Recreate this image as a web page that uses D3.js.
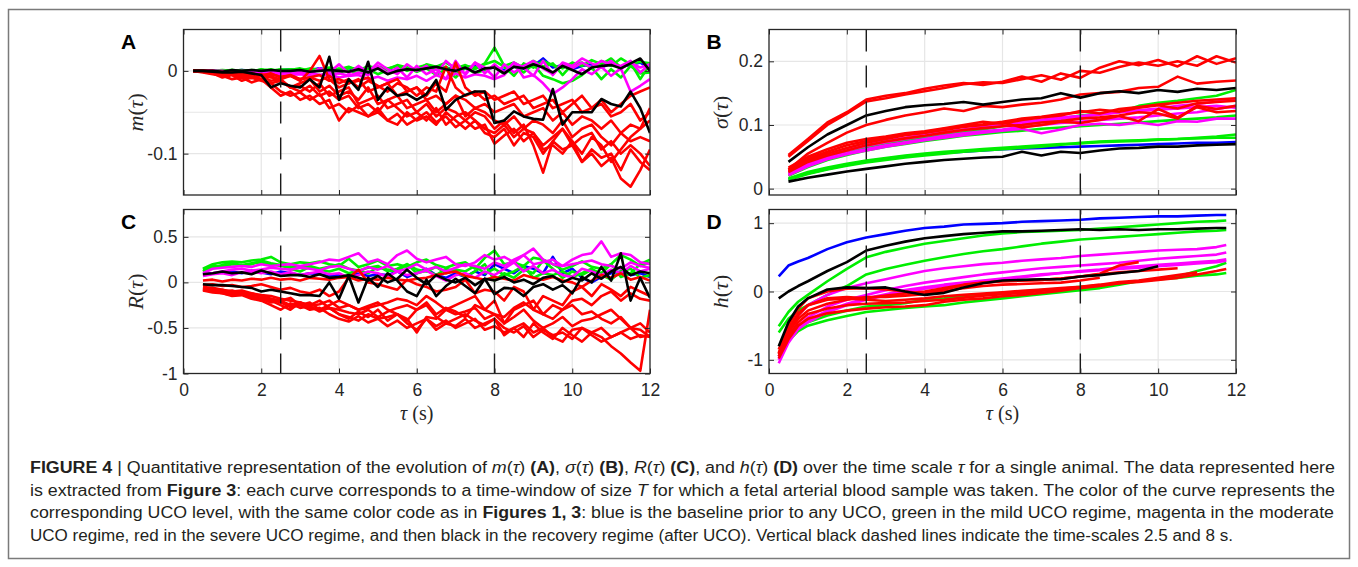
<!DOCTYPE html>
<html>
<head>
<meta charset="utf-8">
<script src="https://cdnjs.cloudflare.com/ajax/libs/d3/7.8.5/d3.min.js"></script>
<style>
  body { margin: 0; background: #fff; }
  svg { display: block; }
</style>
</head>
<body>
<div id="graph"></div>
<script>
// time scales (s)
var tau_a = [.25,.5,.75,1,1.25,1.5,1.75,2,2.25,2.5,2.75,3,3.25,3.5,3.75,4,4.25,4.5,4.75,5,5.25,5.5,5.75,6,
  6.25,6.5,6.75,7,7.25,7.5,7.75,8,8.25,8.5,8.75,9,9.25,9.5,9.75,10,10.25,10.5,10.75,11,11.25,11.5,11.75,12];
var tau_c = [.5,.75,1,1.25,1.5,1.75,2,2.25,2.5,2.75,3,3.25,3.5,3.75,4,4.25,4.5,4.75,5,5.25,5.5,5.75,6,
  6.25,6.5,6.75,7,7.25,7.5,7.75,8,8.25,8.5,8.75,9,9.25,9.5,9.75,10,10.25,10.5,10.75,11,11.25,11.5,11.75,12];
var tau_b = [.5,1,1.5,2,2.5,3,3.5,4,4.5,5,5.5,6,6.5,7,7.5,8,8.5,9,9.5,10,10.5,11,11.5,12];
var tau_d = [.25,.5,.75,1,1.5,2,2.5,3,3.5,4,4.5,5,5.5,6,6.5,7,7.5,8,8.5,9,9.5,10,10.5,11,11.5,11.75];

var x_ticks = [0, 2, 4, 6, 8, 10, 12];
var x_grid = [2, 4, 6, 8, 10];
var dash_at = [2.5, 8];

// (A) m(tau)
var m_blue = [[0,0,0,0,0,.001,0,.001,0,.001,.002,0,.001,.003,.001,.002,0,.003,.001,.004,.002,0,.003,.001,.005,.002,.004,.001,.003,.006,.002,.004,.001,.005,.003,.006,.015,.004,.007,.002,.006,.008,.004,.009,.005,.007,.01,.003]];
var m_green = [
  [0,0,0,.001,0,.001,-.001,.002,0,.001,.002,0,.003,.001,.004,.002,.005,0,.006,.003,.002,.007,.004,.001,.008,.005,.01,.003,.007,.002,.009,.028,.006,.01,.004,.012,.005,.009,-.005,.008,.01,.003,.012,.006,.015,.008,.011,.009],
  [0,0,-.001,0,.001,-.001,.001,0,.002,-.001,.001,.003,0,.002,-.002,.003,0,-.003,.002,-.004,.001,-.002,.004,-.001,.003,-.005,.002,-.008,.004,-.003,.001,.005,-.004,.006,-.002,.008,-.006,-.01,-.015,-.012,-.005,.004,-.01,.002,-.008,.006,-.003,-.002],
  [0,0,0,0,.001,0,0,.001,0,.002,0,.001,-.002,.002,.001,-.003,.004,.002,-.001,.005,.003,.006,0,.004,.007,.002,.005,-.003,.006,.004,.008,.012,.005,-.006,.009,.004,.012,.007,.003,.01,.006,.013,.008,.015,.004,.01,-.01,.008]];
var m_magenta = [
  [0,0,0,-.001,0,-.001,-.002,-.001,-.003,-.002,-.004,-.003,-.002,-.005,-.004,-.003,-.006,-.002,-.005,.006,-.003,.004,-.008,.006,-.004,.002,-.01,.012,-.005,.01,-.003,.008,-.002,.01,.004,-.006,.012,-.005,.009,.003,.01,.004,.012,.008,.006,.012,-.002,.008],
  [0,0,-.001,-.001,-.002,-.002,-.003,-.002,-.004,-.003,-.005,-.004,-.006,-.005,-.004,-.008,-.006,-.005,-.01,-.007,-.012,-.008,-.01,-.006,-.012,-.005,-.01,-.003,-.008,-.004,-.006,-.01,-.005,.01,-.008,-.005,-.015,-.028,-.02,-.01,.002,-.004,.005,-.006,.003,-.025,-.018,-.01],
  [0,0,0,0,-.001,0,-.001,-.002,-.001,-.002,-.003,-.001,-.004,.003,-.002,.008,-.003,.006,-.002,.01,.002,-.004,.008,0,.006,-.004,.012,.002,-.003,.01,.004,-.008,.008,-.002,.006,.012,.003,-.004,.01,.006,.015,.009,.004,.012,.002,.01,.004,.008]];
var m_red = [
  [0,-.001,-.003,-.008,-.005,-.012,-.008,-.012,-.015,-.025,-.03,-.026,-.035,-.028,-.045,-.04,-.05,-.042,-.055,-.05,-.06,-.052,-.065,-.058,-.05,-.062,-.055,-.068,-.06,-.07,-.065,-.088,-.078,-.07,-.085,-.075,-.095,-.09,-.1,-.085,-.11,-.095,-.105,-.1,-.12,-.095,-.11,-.12],
  [0,-.002,-.004,-.006,-.01,-.008,-.014,-.01,-.02,-.03,-.025,-.035,-.03,-.04,-.035,-.06,-.045,-.05,-.055,-.045,-.06,-.065,-.05,-.06,-.055,-.065,-.05,-.06,-.07,-.06,-.075,-.08,-.07,-.09,-.075,-.08,-.1,-.085,-.095,-.09,-.11,-.1,-.115,-.105,-.13,-.14,-.12,-.095],
  [0,-.001,-.002,-.004,-.003,-.006,-.009,-.006,-.012,-.01,-.02,-.018,-.025,-.015,-.03,-.025,-.02,-.04,-.035,-.03,-.045,-.04,-.035,-.05,-.04,-.055,-.045,-.05,-.06,-.05,-.055,-.07,-.06,-.075,-.065,-.09,-.123,-.085,-.07,-.09,-.08,-.075,-.095,-.085,-.1,-.09,-.1,-.115],
  [0,0,-.002,-.003,-.005,-.004,-.008,-.01,-.006,-.012,-.02,-.015,-.01,-.025,-.018,-.03,-.025,-.035,-.02,-.04,-.035,-.03,-.045,-.04,-.035,-.05,-.04,-.03,-.055,-.045,-.05,-.06,-.065,-.055,-.07,-.06,-.065,-.075,-.06,-.08,-.07,-.065,-.08,-.09,-.075,-.085,-.08,-.085],
  [0,0,-.001,-.002,-.004,-.003,-.006,-.004,-.008,-.01,-.006,-.012,0,.018,-.01,-.02,-.015,-.01,-.025,-.02,-.015,-.03,-.025,-.02,-.035,-.03,-.04,-.03,-.035,-.045,-.04,-.05,-.045,-.04,-.055,-.05,-.045,-.06,-.05,-.065,-.055,-.06,-.07,-.06,-.075,-.065,-.07,-.06],
  [0,0,-.001,-.001,-.003,-.002,-.004,-.006,-.003,-.008,-.005,-.01,-.008,-.012,-.006,-.015,-.01,-.02,-.012,-.018,-.025,-.015,-.02,-.03,-.02,-.025,.005,-.02,-.03,-.025,-.035,-.03,-.04,-.035,-.03,-.045,-.04,-.035,-.05,-.04,-.03,-.045,-.035,-.05,-.04,-.03,-.025,-.02],
  [0,-.001,-.003,-.005,-.004,-.008,-.006,-.01,-.015,-.012,-.02,-.025,-.018,-.03,-.025,-.035,-.03,-.045,-.04,-.05,-.035,-.045,-.055,-.05,-.06,-.045,-.065,-.055,-.05,-.06,-.07,-.075,-.065,-.08,-.07,-.075,-.09,-.08,-.07,-.085,-.1,-.08,-.09,-.11,-.095,-.08,-.07,-.045],
  [0,0,0,-.002,-.001,-.004,-.003,-.005,-.004,-.007,-.006,-.01,-.008,-.005,-.012,-.01,-.015,-.012,-.008,-.02,-.015,-.01,-.025,-.02,-.03,-.015,-.025,.01,-.02,-.03,-.025,-.035,-.03,-.025,-.04,-.035,-.03,-.045,-.04,-.035,-.05,-.045,-.04,-.055,-.05,-.04,-.06,-.05]];
var m_black = [
  [0,0,0,-.001,.001,0,.001,0,.001,0,0,.001,-.001,0,.001,0,-.001,.002,-.002,.003,-.004,0,.002,.001,.003,.005,.002,0,.004,-.002,.003,.004,-.003,.005,.003,.008,.004,-.002,.006,.001,-.004,.004,.006,.007,.003,.009,.015,0],
  [0,0,-.001,-.002,-.002,-.001,-.003,-.005,-.02,-.015,-.018,-.02,-.01,-.02,.017,-.035,-.01,-.023,.011,-.035,-.02,-.03,-.028,-.035,-.028,-.011,-.047,-.035,-.029,-.025,-.025,-.063,-.06,-.049,-.055,-.058,-.059,-.022,-.065,-.05,-.05,-.05,-.034,-.04,-.043,-.025,-.045,-.075]];

// (B) sigma(tau)
var s_blue = [[.015,.024,.031,.037,.043,.047,.051,.054,.056,.058,.06,.062,.063,.064,.065,.066,.067,.068,.069,.07,.071,.072,.072,.073]];
var s_green = [
  [.016,.026,.033,.039,.044,.048,.052,.055,.058,.06,.062,.064,.066,.068,.07,.071,.073,.074,.075,.077,.078,.08,.082,.085],
  [.014,.023,.03,.036,.041,.045,.049,.052,.055,.058,.06,.062,.064,.066,.069,.072,.074,.075,.076,.077,.078,.079,.08,.08],
  [.024,.038,.05,.058,.065,.071,.076,.08,.085,.089,.093,.098,.102,.105,.11,.115,.118,.12,.13,.135,.138,.142,.146,.155],
  [.02,.034,.045,.053,.06,.066,.07,.075,.079,.083,.086,.089,.091,.094,.096,.098,.1,.102,.104,.106,.108,.11,.112,.115]];
var s_magenta = [
  [.025,.04,.052,.06,.067,.073,.078,.083,.088,.092,.096,.1,.103,.107,.11,.113,.116,.12,.123,.126,.13,.133,.137,.14],
  [.023,.037,.048,.056,.062,.068,.073,.078,.083,.087,.09,.093,.097,.1,.103,.105,.108,.11,.112,.115,.118,.12,.125,.13],
  [.021,.035,.046,.054,.06,.066,.071,.076,.08,.084,.088,.091,.094,.087,.093,.1,.102,.1,.104,.1,.106,.105,.11,.11],
  [.027,.042,.054,.062,.069,.075,.08,.085,.089,.093,.097,.101,.105,.108,.112,.114,.117,.12,.122,.124,.126,.128,.13,.127]];
var s_red = [
  [.053,.078,.104,.12,.14,.146,.15,.157,.162,.166,.163,.168,.176,.168,.181,.174,.19,.2,.194,.202,.192,.208,.196,.205],
  [.05,.075,.1,.118,.137,.142,.148,.153,.158,.164,.167,.166,.172,.178,.171,.185,.182,.191,.198,.193,.2,.193,.208,.198],
  [.03,.055,.072,.088,.1,.108,.115,.12,.126,.122,.13,.128,.132,.135,.14,.148,.15,.152,.158,.16,.176,.165,.168,.17],
  [.033,.05,.062,.072,.078,.082,.087,.09,.095,.1,.105,.102,.108,.112,.115,.122,.118,.125,.128,.132,.135,.138,.14,.142],
  [.03,.047,.058,.068,.075,.08,.085,.088,.094,.098,.101,.105,.11,.113,.117,.12,.124,.121,.127,.131,.126,.134,.136,.138],
  [.028,.045,.055,.064,.072,.078,.084,.088,.092,.097,.1,.104,.096,.1,.105,.103,.108,.114,.106,.125,.112,.128,.12,.122],
  [.026,.042,.052,.06,.068,.074,.079,.083,.088,.092,.095,.098,.1,.104,.106,.11,.112,.115,.12,.118,.11,.13,.125,.13]];
var s_black = [
  [.042,.065,.085,.1,.115,.122,.128,.131,.133,.136,.132,.136,.14,.142,.15,.143,.15,.153,.15,.155,.152,.157,.155,.158],
  [.011,.017,.022,.027,.031,.035,.039,.042,.045,.047,.049,.05,.058,.052,.058,.056,.06,.063,.064,.066,.066,.068,.069,.07]];

// (C) R(tau)
var r_blue = [[.09,.1,.11,.12,.1,.13,.11,.09,.12,.1,.08,.1,.09,.07,.08,.06,.1,.07,.09,.08,.12,.06,.1,.15,.08,.05,.1,.06,.12,.08,.2,.15,.1,.18,.15,.1,.28,.1,.15,.05,0,.06,.1,.12,.08,.1,.06]];
var r_green = [
  [.15,.2,.22,.23,.22,.24,.25,.28,.22,.2,.22,.21,.23,.2,.18,.26,.17,.2,.24,.18,.2,.17,.22,.25,.19,.16,.2,.22,.15,.27,.35,.2,.22,.18,.27,.25,.2,.14,.18,.23,.17,.15,.2,.3,.25,.18,.22],
  [.12,.18,.17,.2,.19,.21,.22,.2,.18,.17,.16,.18,.15,.17,.2,.15,.13,.16,.18,.12,.15,.2,.14,.12,.17,.1,.14,.12,.18,.1,.15,.08,.12,.18,.05,.1,.08,.12,.06,.1,.15,.08,.03,.12,.15,.05,.08],
  [.14,.16,.19,.22,.18,.2,.24,.21,.19,.15,.12,.17,.14,.12,.15,.1,.13,.1,.17,.14,.12,.2,.1,.13,.08,.15,.12,.06,.12,.2,.02,.1,.05,.14,.1,.24,.15,.05,.12,.08,.14,.1,.2,.06,.1,.2,.25]];
var r_magenta = [
  [.1,.15,.16,.17,.18,.17,.2,.18,.19,.2,.18,.2,.22,.25,.24,.28,.32,.22,.25,.2,.3,.35,.26,.22,.25,.28,.2,.18,.22,.3,.25,.28,.22,.3,.37,.25,.2,.18,.25,.3,.32,.45,.28,.32,.3,.22,.2],
  [.08,.1,.12,.14,.15,.13,.14,.16,.15,.14,.16,.15,.13,.17,.18,.15,.12,.17,.14,.18,.12,.15,.2,.14,.17,.12,.16,.2,.18,.15,.22,.18,.25,.3,.2,.22,.25,.18,.2,.22,.24,.2,.18,.15,.22,.18,.16],
  [.07,.09,.1,.08,.11,.12,.1,.12,.09,.11,.08,.1,.12,.09,.1,.05,.08,.12,.1,.06,.12,.08,.1,.13,.07,.02,.08,.1,.05,.12,.08,.15,.22,.12,.18,.1,.14,.08,.06,.15,.12,.08,.14,.1,.18,.12,.15]];
var r_red = [
  [-.08,-.09,-.1,-.12,-.11,-.14,-.15,-.18,-.2,-.17,-.25,-.22,-.3,-.28,-.35,-.4,-.32,-.38,-.3,-.42,-.35,-.45,-.52,-.4,-.48,-.42,-.5,-.45,-.4,-.52,-.48,-.55,-.5,-.6,-.45,-.55,-.62,-.5,-.58,-.65,-.55,-.6,-.7,-.78,-.88,-.97,-.3],
  [-.06,-.08,-.1,-.09,-.12,-.15,-.2,-.18,-.22,-.27,-.25,-.3,-.28,-.35,-.4,-.43,-.37,-.44,-.4,-.38,-.35,-.42,-.3,-.25,-.38,-.45,-.4,-.35,-.42,-.47,-.4,-.58,-.5,-.45,-.55,-.5,-.6,-.65,-.52,-.5,-.55,-.5,-.6,-.55,-.5,-.6,-.58],
  [-.07,-.09,-.08,-.11,-.13,-.12,-.16,-.2,-.25,-.3,-.22,-.26,-.24,-.2,-.28,-.25,-.3,-.26,-.22,-.3,-.35,-.4,-.55,-.38,-.4,-.3,-.35,-.32,-.28,-.4,-.35,-.45,-.38,-.3,-.42,-.5,-.45,-.38,-.48,-.42,-.4,-.35,-.3,-.4,-.5,-.45,-.55],
  [-.05,-.06,-.08,-.1,-.09,-.12,-.14,-.15,-.18,-.2,-.22,-.25,-.2,-.28,-.3,-.33,-.35,-.3,-.38,-.32,-.28,-.25,-.3,-.22,-.35,-.28,-.32,-.38,-.25,-.3,-.35,-.38,-.28,-.22,-.3,-.35,-.4,-.3,-.25,-.35,-.32,-.4,-.45,-.38,-.5,-.52,-.6],
  [-.08,-.1,-.12,-.14,-.13,-.16,-.18,-.22,-.2,-.25,-.22,-.28,-.3,-.25,-.2,-.25,-.3,-.28,-.25,-.22,-.18,-.2,-.25,-.15,-.22,-.3,-.25,-.2,-.15,-.3,-.2,-.45,-.3,-.25,-.2,-.35,-.25,-.3,-.2,-.18,-.25,-.15,-.1,-.2,-.12,-.18,-.2],
  [.02,.03,.01,.03,.02,.04,.03,.05,.03,.04,.02,.05,.04,.03,.05,.06,.02,.04,.03,.05,.03,.02,.04,.05,.08,.1,.12,.07,.05,.03,.06,.04,.02,.08,.05,.03,.06,.02,0,-.05,.02,.08,.05,.1,.03,.06,.02],
  [-.03,-.02,-.04,-.03,-.05,-.04,-.02,-.05,-.08,-.06,-.1,-.12,-.08,-.15,-.1,.05,.14,0,-.02,-.05,-.08,.03,-.02,-.05,-.1,-.08,-.05,.03,-.12,-.08,-.1,-.2,-.05,-.1,-.3,-.15,-.2,-.25,-.1,-.05,-.15,-.02,-.08,-.15,-.05,-.1,-.15],
  [-.09,-.11,-.12,-.15,-.14,-.18,-.2,-.25,-.3,-.23,-.28,-.26,-.32,-.28,-.35,-.38,-.42,-.35,-.4,-.48,-.42,-.5,-.45,-.4,-.52,-.45,-.48,-.4,-.5,-.45,-.4,-.5,-.55,-.48,-.6,-.52,-.58,-.55,-.62,-.5,-.58,-.65,-.6,-.55,-.62,-.58,-.6]];
var r_black = [
  [.09,.1,.12,.1,.11,.09,.13,.1,.07,.08,.08,.06,.09,.05,.06,.08,.05,.02,.07,0,.04,.14,.05,-.02,.08,.03,0,.05,-.03,.04,.02,.06,0,.03,-.02,.05,.07,0,.05,.02,.1,.04,.12,.17,.08,.12,.1],
  [-.02,-.03,-.03,-.04,-.05,-.06,-.1,-.08,-.1,-.12,-.14,-.14,-.15,0,-.18,.07,-.22,.05,-.05,.1,.02,-.1,-.15,.03,-.15,-.04,.04,-.04,-.12,.04,-.13,-.06,-.07,-.15,-.05,-.02,-.08,-.03,-.12,.06,0,.17,.02,.32,-.2,.05,-.17]];

// (D) h(tau)
var h_blue = [[.22,.38,.44,.49,.62,.72,.79,.84,.89,.93,.95,.98,.99,1.0,1.02,1.03,1.04,1.05,1.07,1.08,1.09,1.1,1.1,1.11,1.12,1.12]];
var h_green = [
  [-.51,-.3,-.15,-.05,.15,.33,.5,.58,.64,.7,.74,.78,.82,.85,.87,.88,.89,.9,.92,.94,.96,.98,1.0,1.02,1.03,1.04],
  [-.6,-.4,-.28,-.2,-.05,.08,.25,.33,.39,.45,.5,.55,.59,.62,.66,.7,.73,.76,.78,.8,.82,.84,.86,.88,.89,.9],
  [-.95,-.7,-.55,-.45,-.35,-.28,-.22,-.2,-.17,-.12,-.1,-.07,-.05,-.02,0,.02,.04,.07,.09,.12,.15,.18,.22,.3,.37,.42],
  [-.9,-.72,-.58,-.5,-.42,-.36,-.3,-.27,-.24,-.22,-.2,-.16,-.13,-.1,-.07,-.04,-.01,.02,.05,.1,.15,.18,.2,.23,.25,.27]];
var h_magenta = [
  [-.95,-.6,-.35,-.2,-.05,.05,.12,.18,.24,.3,.34,.37,.4,.42,.45,.47,.49,.52,.54,.56,.58,.6,.61,.62,.65,.68],
  [-1.0,-.7,-.5,-.38,-.22,-.12,-.05,.02,.08,.13,.17,.21,.25,.28,.31,.34,.36,.38,.4,.42,.45,.48,.5,.52,.54,.57],
  [-1.05,-.75,-.55,-.45,-.3,-.2,-.12,-.06,-.01,.04,.08,.12,.15,.18,.21,.24,.27,.3,.32,.35,.37,.39,.41,.43,.45,.47],
  [-.98,-.72,-.52,-.42,-.28,-.18,-.1,-.04,.02,.06,.1,.13,.16,.19,.22,.25,.27,.29,.31,.33,.35,.37,.39,.41,.43,.45]];
var h_red = [
  [-.85,-.5,-.25,-.1,0,.04,.05,.03,0,-.03,.03,.09,.13,.15,.16,.17,.19,.22,.26,.38,.43,null,null,null,null,null],
  [-.9,-.6,-.35,-.2,-.1,-.08,-.1,-.06,-.03,0,.05,.1,.13,.15,.16,.17,.19,.22,.25,.28,.3,.32,.34,null,null,null],
  [-.95,-.65,-.45,-.33,-.25,-.2,-.18,-.17,-.16,-.14,-.12,-.09,-.06,-.04,-.02,.01,.03,.06,.09,.12,.15,null,null,null,null,null],
  [-.92,-.6,-.4,-.28,-.18,-.12,-.08,-.08,-.06,-.04,0,.05,.08,.1,.11,.12,.13,.16,.2,null,null,null,null,null,null,null],
  [-.9,-.55,-.32,-.2,-.12,-.1,-.12,-.14,-.12,-.1,-.07,-.05,-.03,-.01,.01,.03,.05,.07,.1,.14,.16,.2,.24,.28,null,null],
  [-.98,-.7,-.5,-.4,-.32,-.28,-.25,-.23,-.22,-.2,-.15,-.12,-.1,-.07,-.05,-.02,.01,.05,.08,.12,.14,.17,.2,.25,.3,.33]];
var h_black = [
  [-.1,0,.08,.15,.3,.43,.6,.67,.73,.78,.81,.84,.86,.88,.88,.89,.9,.91,.9,.91,.9,.91,.91,.92,.93,.93],
  [-.8,-.45,-.22,-.1,.03,.06,.05,.06,0,-.05,-.02,.06,.12,.16,.17,.18,.18,.22,.24,.27,.3,.37,null,null,null,null]];

var colors = ["#0000ff", "#00ee00", "#ff00ff", "#ff0000", "#000000"];
var axis_col = "#262626";
var tick_font = "'Liberation Sans', Arial, Helvetica, sans-serif";
var math_font = "'Liberation Serif', 'Times New Roman', serif";

var svg = d3.select("#graph").append("svg")
  .attr("width", 1358)
  .attr("height", 567);

svg.append("rect")
  .attr("x", 8.5).attr("y", 9.5)
  .attr("width", 1341).attr("height", 549)
  .attr("fill", "none")
  .attr("stroke", "#7a7a7a")
  .attr("stroke-width", 1.5);

var panels = [
  {id: "a", letter: "A", name: "m", left: 183.5, right: 650, top: 29.5, bottom: 195, tau: tau_a,
   ydom: [-0.15, 0.05], ygrid: [-0.1, -0.05, 0], yticks: [-0.1, 0], ylabels: ["-0.1", "0"], xlabels: false,
   series: [m_blue, m_green, m_magenta, m_red, m_black]},
  {id: "b", letter: "B", name: "\u03c3", left: 769, right: 1236, top: 29.5, bottom: 195, tau: tau_b,
   ydom: [-0.01, 0.25], ygrid: [0, 0.1, 0.2], yticks: [0, 0.1, 0.2], ylabels: ["0", "0.1", "0.2"], xlabels: false,
   series: [s_blue, s_green, s_magenta, s_red, s_black]},
  {id: "c", letter: "C", name: "R", left: 183.5, right: 650, top: 209.5, bottom: 373.5, tau: tau_c,
   ydom: [-1, 0.8], ygrid: [-0.5, 0, 0.5], yticks: [-1, -0.5, 0, 0.5], ylabels: ["-1", "-0.5", "0", "0.5"], xlabels: true,
   series: [r_blue, r_green, r_magenta, r_red, r_black]},
  {id: "d", letter: "D", name: "h", left: 769, right: 1236, top: 209.5, bottom: 373.5, tau: tau_d,
   ydom: [-1.2, 1.2], ygrid: [-1, 0, 1], yticks: [-1, 0, 1], ylabels: ["-1", "0", "1"], xlabels: true,
   series: [h_blue, h_green, h_magenta, h_red, h_black]}
];

function style_axis(g, show){
  g.select(".domain").remove();
  g.selectAll("line").attr("stroke", axis_col).attr("stroke-width", 1);
  g.selectAll("text")
    .attr("fill", axis_col)
    .style("font-family", tick_font)
    .style("font-size", "17.5px")
    .style("display", show ? null : "none");
}

function plot_panel(p){
  var xscale = d3.scaleLinear().domain([0, 12]).range([p.left, p.right]);
  var yscale = d3.scaleLinear().domain(p.ydom).range([p.bottom, p.top]);
  var g = svg.append("g");

  g.append("clipPath").attr("id", "clip_" + p.id)
    .append("rect")
    .attr("x", p.left).attr("y", p.top)
    .attr("width", p.right - p.left).attr("height", p.bottom - p.top);

  // grid
  g.selectAll(".gx").data(x_grid).enter().append("line")
    .attr("x1", function(d){ return xscale(d); })
    .attr("x2", function(d){ return xscale(d); })
    .attr("y1", p.top).attr("y2", p.bottom)
    .attr("stroke", "#e6e6e6").attr("stroke-width", 1.2);
  g.selectAll(".gy").data(p.ygrid).enter().append("line")
    .attr("x1", p.left).attr("x2", p.right)
    .attr("y1", function(d){ return yscale(d); })
    .attr("y2", function(d){ return yscale(d); })
    .attr("stroke", "#e6e6e6").attr("stroke-width", 1.2);

  var line = d3.line()
    .defined(function(d){ return d[1] != null && d[0] != null; })
    .x(function(d){ return xscale(d[0]); })
    .y(function(d){ return yscale(d[1]); });

  var curves = g.append("g").attr("clip-path", "url(#clip_" + p.id + ")");
  p.series.forEach(function(group, k){
    group.forEach(function(vals){
      var pts = vals.map(function(v, i){ return [p.tau[i], v]; });
      curves.append("path")
        .datum(pts)
        .attr("d", line)
        .attr("fill", "none")
        .attr("stroke", colors[k])
        .attr("stroke-width", 2.6)
        .attr("stroke-linejoin", "round");
    });
  });

  // dashed time-scales
  g.selectAll(".dash").data(dash_at).enter().append("line")
    .attr("x1", function(d){ return xscale(d); })
    .attr("x2", function(d){ return xscale(d); })
    .attr("y1", p.top).attr("y2", p.bottom)
    .attr("stroke", "#1a1a1a").attr("stroke-width", 1.4)
    .attr("stroke-dasharray", "22,14");

  // axes
  g.append("g").attr("transform", "translate(0," + p.bottom + ")")
    .call(d3.axisBottom(xscale).tickValues(x_ticks).tickSize(-5).tickPadding(10))
    .call(style_axis, p.xlabels);
  g.append("g").attr("transform", "translate(0," + p.top + ")")
    .call(d3.axisTop(xscale).tickValues(x_ticks).tickSize(-5))
    .call(style_axis, false);
  g.append("g").attr("transform", "translate(" + p.left + ",0)")
    .call(d3.axisLeft(yscale).tickValues(p.yticks).tickSize(-5).tickPadding(6)
      .tickFormat(function(d, i){ return p.ylabels[i]; }))
    .call(style_axis, true);
  g.append("g").attr("transform", "translate(" + p.right + ",0)")
    .call(d3.axisRight(yscale).tickValues(p.yticks).tickSize(-5))
    .call(style_axis, false);

  g.append("rect")
    .attr("x", p.left).attr("y", p.top)
    .attr("width", p.right - p.left).attr("height", p.bottom - p.top)
    .attr("fill", "none").attr("stroke", axis_col).attr("stroke-width", 1.3);

  // panel letter
  svg.append("text")
    .attr("x", p.left - 62.5).attr("y", p.top + 19)
    .text(p.letter)
    .style("font-family", tick_font)
    .style("font-weight", "bold")
    .style("font-size", "21px")
    .attr("fill", "#000");

  // y label, e.g. m(tau)
  var cy = (p.top + p.bottom) / 2;
  var yl = svg.append("text")
    .attr("transform", "translate(" + (p.left - 41) + "," + cy + ") rotate(-90)")
    .attr("text-anchor", "middle")
    .attr("fill", axis_col)
    .style("font-family", math_font)
    .style("font-size", "22px");
  yl.append("tspan").style("font-style", "italic").text(p.name);
  yl.append("tspan").text("(");
  yl.append("tspan").style("font-style", "italic").text("\u03c4");
  yl.append("tspan").text(")");

  if(p.xlabels){
    var xl = svg.append("text")
      .attr("x", (p.left + p.right) / 2).attr("y", p.bottom + 46)
      .attr("text-anchor", "middle")
      .attr("fill", axis_col)
      .style("font-family", math_font)
      .style("font-size", "20px");
    xl.append("tspan").style("font-style", "italic").text("\u03c4");
    xl.append("tspan").text(" (s)");
  }
}

panels.forEach(plot_panel);

// caption
var cap_lines = [
  [["b", "FIGURE 4"], ["n", " | Quantitative representation of the evolution of "], ["i", "m"], ["n", "("], ["i", "\u03c4"], ["n", ") "], ["b", "(A)"],
   ["n", ", "], ["i", "\u03c3"], ["n", "("], ["i", "\u03c4"], ["n", ") "], ["b", "(B)"], ["n", ", "], ["i", "R"], ["n", "("], ["i", "\u03c4"], ["n", ") "], ["b", "(C)"],
   ["n", ", and "], ["i", "h"], ["n", "("], ["i", "\u03c4"], ["n", ") "], ["b", "(D)"], ["n", " over the time scale "], ["i", "\u03c4"],
   ["n", " for a single animal. The data represented here"]],
  [["n", "is extracted from "], ["b", "Figure 3"], ["n", ": each curve corresponds to a time-window of size "], ["i", "T"],
   ["n", " for which a fetal arterial blood sample was taken. The color of the curve represents the"]],
  [["n", "corresponding UCO level, with the same color code as in "], ["b", "Figures 1, 3"],
   ["n", ": blue is the baseline prior to any UCO, green in the mild UCO regime, magenta in the moderate"]],
  [["n", "UCO regime, red in the severe UCO regime, and then black in the recovery regime (after UCO). Vertical black dashed lines indicate the time-scales 2.5 and 8 s."]]
];
var cap_width = [1305, 1305, 1304, 1203];
var cap_y = [473, 496, 518, 541];

cap_lines.forEach(function(parts, li){
  var t = svg.append("text")
    .attr("x", 30).attr("y", cap_y[li])
    .attr("textLength", cap_width[li])
    .attr("lengthAdjust", "spacingAndGlyphs")
    .attr("fill", "#231f20")
    .style("font-family", "'Liberation Sans Narrow', 'Arial Narrow', 'Liberation Sans', Arial, sans-serif")
    .style("font-size", "16px");
  parts.forEach(function(pt){
    var s = t.append("tspan").text(pt[1]);
    if(pt[0] == "b") s.style("font-weight", "bold");
    if(pt[0] == "i") s.style("font-style", "italic");
  });
});
</script>
</body>
</html>
